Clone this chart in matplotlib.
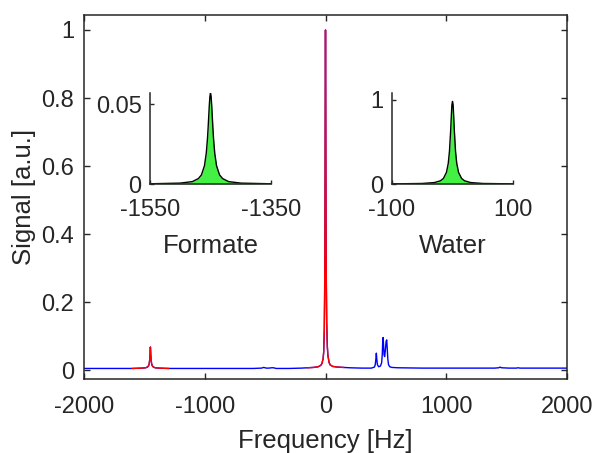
import numpy as np
import matplotlib
matplotlib.use('Agg')
import matplotlib.pyplot as plt

plt.rcParams['font.family'] = ['Liberation Sans', 'DejaVu Sans']
plt.rcParams['axes.unicode_minus'] = False
plt.rcParams['text.color'] = '#262626'
plt.rcParams['axes.labelcolor'] = '#262626'
plt.rcParams['xtick.color'] = '#262626'
plt.rcParams['ytick.color'] = '#262626'

# full spectrum
freq = [-2000, -1800, -1600, -1520, -1490, -1475, -1465, -1460, -1456, -1453, -1451,
        -1450, -1449, -1447, -1444, -1440, -1435, -1425, -1410, -1380, -1300,
        -1000, -600, -530, -512, -490, -470, -445, -430, -410, -300, -200,
        -150, -100, -60, -40, -30, -20, -15, -10, -7, -5, -3, -2, -1, 0,
        1, 2, 3, 5, 7, 10, 15, 20, 30, 40, 60, 100, 150, 200, 300,
        380, 405, 412, 417, 421, 425, 430, 440, 455, 465, 470, 474, 477, 480,
        485, 490, 496, 502, 507, 511, 516, 522, 532, 550, 600, 800, 1000,
        1400, 1435, 1446, 1458, 1520, 1580, 1595, 1610, 1700, 2000]
signal = [0.005, 0.005, 0.005, 0.006, 0.007, 0.009, 0.013, 0.019, 0.030, 0.046, 0.062,
          0.068, 0.062, 0.046, 0.030, 0.019, 0.013, 0.009, 0.007, 0.006, 0.005,
          0.005, 0.005, 0.006, 0.008, 0.006, 0.006, 0.007, 0.007, 0.005, 0.005, 0.006,
          0.007, 0.008, 0.010, 0.014, 0.019, 0.033, 0.053, 0.120, 0.230, 0.380, 0.630, 0.800, 0.940, 1.000,
          0.940, 0.800, 0.640, 0.390, 0.250, 0.140, 0.070, 0.043, 0.022, 0.015, 0.011, 0.009, 0.008, 0.007, 0.006,
          0.006, 0.009, 0.016, 0.032, 0.050, 0.032, 0.016, 0.010, 0.012, 0.022, 0.045, 0.085, 0.096, 0.080,
          0.045, 0.040, 0.060, 0.085, 0.089, 0.065, 0.033, 0.016, 0.010, 0.008, 0.007, 0.006, 0.006,
          0.006, 0.007, 0.009, 0.007, 0.006, 0.006, 0.007, 0.006, 0.006, 0.006]

# fit windows drawn in red
red_windows = [(-1616, -1244), (-174, 198)]

# inset: formate peak
formate_f = [-1550, -1500, -1480, -1470, -1465, -1460, -1457, -1455, -1454, -1453, -1452, -1451, -1450,
             -1449, -1448, -1447, -1446, -1445, -1443, -1440, -1435, -1430, -1420, -1400, -1350]
formate_y = [0.00014, 0.00056, 0.0015, 0.0034, 0.0057, 0.0114, 0.0193, 0.0285, 0.0348, 0.0419, 0.0491,
             0.0548, 0.0570, 0.0548, 0.0491, 0.0419, 0.0348, 0.0285, 0.0193, 0.0114, 0.0057, 0.0034,
             0.0015, 0.00056, 0.00014]

# inset: water peak
water_f = [-100, -50, -30, -20, -15, -10, -7, -5, -3, -2, -1, 0, 1, 2, 3, 5, 7, 10, 15, 20, 30, 50, 100]
water_y = [0.0016, 0.0064, 0.017, 0.038, 0.066, 0.138, 0.246, 0.39, 0.64, 0.80, 0.94, 0.98,
           0.94, 0.80, 0.64, 0.39, 0.246, 0.138, 0.066, 0.038, 0.017, 0.0064, 0.0016]

fx = np.array(freq)
sx = np.array(signal)

fig = plt.figure(figsize=(5.96, 4.53), dpi=100)
ax = fig.add_axes([84/596, 1-379/453, 483/596, 364/453])
ax.plot(fx, sx, color='blue', lw=1.0)
for lo, hi in red_windows:
    m = (fx >= lo) & (fx <= hi)
    ax.plot(fx[m], sx[m], color='red', lw=1.0)
ax.set_xlim(-2000, 2000)
ax.set_ylim(-0.026, 1.044)
ax.set_xticks([-2000, -1000, 0, 1000, 2000])
ax.set_yticks([0, 0.2, 0.4, 0.6, 0.8, 1])
ax.set_yticklabels(['0', '0.2', '0.4', '0.6', '0.8', '1'])
ax.tick_params(direction='in', length=4.5, width=1, top=True, right=True, labelsize=17)
ax.tick_params(axis='x', pad=12)
ax.tick_params(axis='y', pad=7)
for s in ax.spines.values():
    s.set_linewidth(1.1)
    s.set_color('#262626')
ax.set_xlabel('Frequency [Hz]', fontsize=18.5, labelpad=8)
ax.set_ylabel('Signal [a.u.]', fontsize=18.5, labelpad=4)


def inset(rect, f, y, xlim, ylim, yticks, yticklabels, xticklabels, label):
    a = fig.add_axes(rect)
    a.fill_between(f, y, 0, color='#44f044', lw=0)
    a.plot(f, y, color='black', lw=1.0)
    a.set_xlim(*xlim)
    a.set_ylim(*ylim)
    a.set_xticks(xlim)
    a.set_xticklabels(xticklabels)
    a.set_yticks(yticks)
    a.set_yticklabels(yticklabels)
    a.spines['top'].set_visible(False)
    a.spines['right'].set_visible(False)
    for s in ['left', 'bottom']:
        a.spines[s].set_linewidth(1.1)
        a.spines[s].set_color('#262626')
    a.tick_params(direction='in', length=3, width=1, labelsize=17)
    a.tick_params(axis='x', pad=11)
    a.tick_params(axis='y', pad=6)
    a.set_xlabel(label, fontsize=18.5, labelpad=9)
    a.patch.set_alpha(0)
    return a


inset([150/596, 1-184/453, 121/596, 91/453], formate_f, formate_y, (-1550, -1350),
      (0, 0.057), [0, 0.05], ['0', '0.05'], ['-1550', '-1350'], 'Formate')
inset([392/596, 1-184/453, 121/596, 91/453], water_f, water_y, (-100, 100),
      (0, 1.08), [0, 1], ['0', '1'], ['-100', '100'], 'Water')

fig.savefig('out.png', dpi=100)
